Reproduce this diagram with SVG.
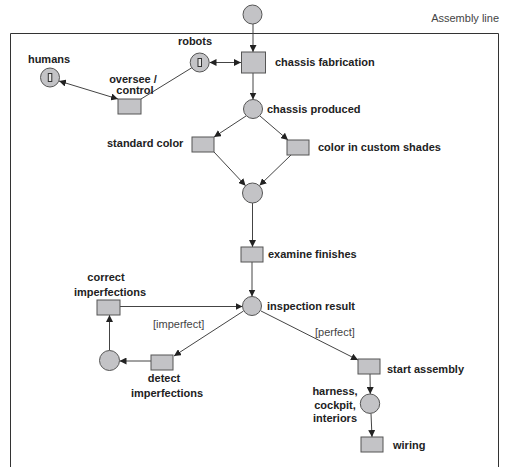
<svg xmlns="http://www.w3.org/2000/svg" width="505" height="467" viewBox="0 0 505 467">
<style>
.pl{fill:#c3c3c6;stroke:#555;stroke-width:1}
.tr{fill:#c3c3c6;stroke:#555;stroke-width:1}
.tk{fill:#e6e6e6;stroke:#333;stroke-width:1}
.lb{font-family:"Liberation Sans",Arial,sans-serif;font-size:11px;font-weight:bold;fill:#222}
.nl{font-family:"Liberation Sans",Arial,sans-serif;font-size:11px;fill:#444}
.e{fill:none;stroke:#444;stroke-width:1;marker-end:url(#ah)}
.b{fill:none;stroke:#444;stroke-width:1;marker-end:url(#ah);marker-start:url(#as)}
.p{fill:none;stroke:#444;stroke-width:1}
</style>
<defs>
<marker id="ah" viewBox="0 0 10 10" refX="10" refY="5" markerWidth="7" markerHeight="7" orient="auto" markerUnits="userSpaceOnUse">
<path d="M0,0 L10,5 L0,10 z" fill="#222"/>
</marker>
<marker id="as" viewBox="0 0 10 10" refX="0" refY="5" markerWidth="7" markerHeight="7" orient="auto" markerUnits="userSpaceOnUse">
<path d="M10,0 L0,5 L10,10 z" fill="#222"/>
</marker>
</defs>
<rect width="505" height="467" fill="#fff"/>
<g id="frame">
<path d="M10.5,467 V33.5 H498.5 V467" fill="none" stroke="#333" stroke-width="1"/>
<text class="nl" x="499" y="22" text-anchor="end">Assembly line</text>
</g>
<g id="connectors">
<line class="e" x1="253" y1="24" x2="253" y2="52"/>
<line class="b" x1="209.5" y1="62.5" x2="241" y2="62.5"/>
<line class="p" x1="193" y1="67" x2="141" y2="99"/>
<line class="b" x1="59" y1="81" x2="118" y2="99"/>
<line class="e" x1="253" y1="73" x2="253" y2="99.5"/>
<line class="e" x1="246" y1="116" x2="214" y2="137"/>
<line class="e" x1="260" y1="116" x2="288" y2="140"/>
<line class="e" x1="214" y1="152" x2="245.6" y2="185.7"/>
<line class="e" x1="291" y1="155" x2="259.5" y2="185.5"/>
<line class="e" x1="252.5" y1="203" x2="252.5" y2="247"/>
<line class="e" x1="252" y1="262" x2="252" y2="296.5"/>
<line class="e" x1="120" y1="306.5" x2="242.5" y2="306.5"/>
<line class="e" x1="243.5" y1="311" x2="174" y2="356"/>
<line class="e" x1="151" y1="361" x2="119.5" y2="361"/>
<line class="e" x1="109.5" y1="350.5" x2="109.5" y2="315"/>
<line class="e" x1="261" y1="311" x2="358" y2="360"/>
<line class="e" x1="370" y1="374" x2="370.3" y2="394"/>
<line class="e" x1="371" y1="413.5" x2="372" y2="437"/>
<text class="nl" x="153" y="328">[imperfect]</text>
<text class="nl" x="315" y="336">[perfect]</text>
</g>
<g id="start"><circle class="pl" cx="252.5" cy="14.5" r="9.5"/></g>
<g id="chassis-fabrication"><rect class="tr" x="241.5" y="52" width="24" height="21"/><text class="lb" x="275" y="66">chassis fabrication</text></g>
<g id="robots"><circle class="pl" cx="199.7" cy="62.5" r="9.5"/><rect class="tk" x="198" y="58.5" width="3.5" height="8"/><text class="lb" x="195" y="45" text-anchor="middle">robots</text></g>
<g id="humans"><circle class="pl" cx="50" cy="77.5" r="9.5"/><rect class="tk" x="48.3" y="73.5" width="3.5" height="8"/><text class="lb" x="49" y="63" text-anchor="middle">humans</text></g>
<g id="oversee-control"><rect class="tr" x="118" y="99" width="23" height="15"/><text class="lb" x="133" y="83" text-anchor="middle">oversee /</text><text class="lb" x="135" y="94" text-anchor="middle">control</text></g>
<g id="chassis-produced"><circle class="pl" cx="253" cy="109" r="9.5"/><text class="lb" x="267" y="113">chassis produced</text></g>
<g id="standard-color"><rect class="tr" x="192" y="137" width="22" height="15"/><text class="lb" x="107" y="147">standard color</text></g>
<g id="custom-shades"><rect class="tr" x="287" y="140" width="22" height="15"/><text class="lb" x="318" y="151">color in custom shades</text></g>
<g id="merge"><circle class="pl" cx="252.5" cy="193" r="10"/></g>
<g id="examine-finishes"><rect class="tr" x="241" y="247" width="22" height="15"/><text class="lb" x="268" y="258">examine finishes</text></g>
<g id="inspection-result"><circle class="pl" cx="252" cy="306" r="9.5"/><text class="lb" x="267" y="310">inspection result</text></g>
<g id="correct-imperfections"><rect class="tr" x="97" y="300" width="23" height="15"/><text class="lb" x="106" y="281" text-anchor="middle">correct</text><text class="lb" x="110" y="296" text-anchor="middle">imperfections</text></g>
<g id="detect-imperfections"><rect class="tr" x="151" y="355" width="22" height="15"/><text class="lb" x="164" y="382" text-anchor="middle">detect</text><text class="lb" x="167" y="397" text-anchor="middle">imperfections</text></g>
<g id="loop-place"><circle class="pl" cx="109.5" cy="360.5" r="10"/></g>
<g id="start-assembly"><rect class="tr" x="358" y="359" width="22" height="15"/><text class="lb" x="387" y="373">start assembly</text></g>
<g id="harness"><circle class="pl" cx="370" cy="403.7" r="9.7"/><text class="lb" x="335" y="395" text-anchor="middle">harness,</text><text class="lb" x="335" y="408.5" text-anchor="middle">cockpit,</text><text class="lb" x="335" y="422" text-anchor="middle">interiors</text></g>
<g id="wiring"><rect class="tr" x="361" y="437" width="22" height="15"/><text class="lb" x="393" y="449">wiring</text></g>
</svg>
